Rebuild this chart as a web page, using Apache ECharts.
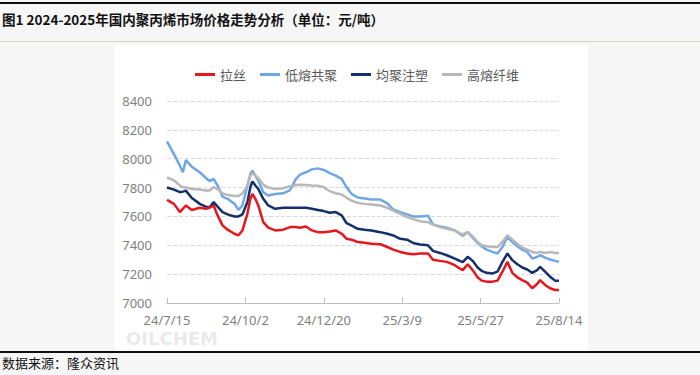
<!DOCTYPE html>
<html>
<head>
<meta charset="utf-8">
<script src="https://cdn.jsdelivr.net/npm/echarts@6/dist/echarts.min.js"></script>
<style>
html,body{margin:0;padding:0;background:#f6f6f6;}
#chart{width:700px;height:375px;}
</style>
</head>
<body>
<div id="chart"></div>
<script>
const titleText = '图1 2024-2025年国内聚丙烯市场价格走势分析（单位：元/吨）';
const sourceText = '数据来源：隆众资讯';
const watermarkText = 'OILCHEM';
const seriesNames = ['拉丝', '低熔共聚', '均聚注塑', '高熔纤维'];
const xTickStart = '2024-07-15';
const xTickStepDays = 79;
const xTickCount = 5;
const yTicks = [7000, 7200, 7400, 7600, 7800, 8000, 8200, 8400];

const dates = [
'2024-07-15','2024-07-22','2024-07-28','2024-07-31','2024-08-03','2024-08-09','2024-08-17','2024-08-23','2024-08-27','2024-08-31',
'2024-09-04','2024-09-09','2024-09-14','2024-09-21','2024-09-25','2024-09-29','2024-10-04','2024-10-07','2024-10-09','2024-10-12',
'2024-10-15','2024-10-20','2024-10-25','2024-11-01','2024-11-09','2024-11-16','2024-11-22','2024-11-26','2024-12-02','2024-12-08',
'2024-12-14','2024-12-20','2024-12-26','2025-01-01','2025-01-07','2025-01-12','2025-01-17','2025-01-23','2025-01-30','2025-02-06',
'2025-02-15','2025-02-22','2025-02-28','2025-03-07','2025-03-14','2025-03-20','2025-03-27','2025-04-04','2025-04-09','2025-04-16',
'2025-04-23','2025-05-01','2025-05-06','2025-05-09','2025-05-14','2025-05-19','2025-05-24','2025-05-28','2025-06-02','2025-06-08',
'2025-06-13','2025-06-18','2025-06-23','2025-06-28','2025-07-03','2025-07-08','2025-07-13','2025-07-18','2025-07-23','2025-07-26',
'2025-07-31','2025-08-05','2025-08-10','2025-08-14'];

const lasi = [
7715,7687,7630,7653,7676,7645,7660,7653,7660,7676,
7607,7538,7508,7480,7469,7503,7618,7722,7756,7722,
7676,7561,7522,7503,7508,7526,7526,7522,7530,7503,
7491,7491,7495,7503,7480,7445,7439,7423,7418,7411,
7407,7388,7370,7354,7343,7338,7343,7343,7300,7292,
7285,7262,7239,7228,7269,7228,7178,7155,7148,7148,
7155,7217,7285,7209,7178,7159,7141,7102,7132,7159,
7125,7102,7090,7090];

const dirong = [
8120,8032,7952,7906,7990,7945,7906,7867,7845,7860,
7814,7738,7722,7687,7645,7676,7814,7894,7917,7883,
7848,7768,7745,7756,7760,7783,7860,7890,7906,7926,
7933,7922,7900,7883,7860,7802,7756,7731,7724,7717,
7717,7690,7648,7630,7614,7600,7600,7605,7545,7531,
7522,7503,7480,7467,7491,7453,7416,7393,7370,7354,
7343,7388,7457,7423,7393,7370,7354,7308,7320,7331,
7315,7301,7292,7285];

const junju = [
7800,7786,7768,7772,7779,7728,7687,7668,7664,7699,
7668,7630,7614,7600,7600,7614,7699,7803,7843,7814,
7790,7722,7676,7653,7660,7660,7660,7660,7660,7653,
7645,7637,7625,7630,7607,7553,7537,7514,7508,7503,
7491,7480,7468,7445,7439,7416,7405,7400,7361,7347,
7331,7308,7292,7283,7320,7292,7246,7223,7209,7205,
7217,7285,7343,7297,7269,7246,7232,7209,7228,7251,
7217,7182,7155,7155];

const gaorong = [
7870,7850,7814,7803,7800,7790,7786,7780,7780,7803,
7790,7760,7749,7741,7741,7760,7814,7883,7899,7883,
7867,7820,7800,7790,7795,7810,7818,7820,7818,7814,
7812,7803,7775,7761,7752,7729,7710,7694,7687,7683,
7676,7660,7641,7618,7595,7581,7567,7560,7543,7526,
7514,7503,7484,7476,7491,7462,7423,7400,7393,7388,
7388,7423,7469,7439,7411,7384,7370,7354,7347,7354,
7347,7354,7347,7347];

function toUTC(s){const p=s.split('-').map(Number);return Date.UTC(p[0],p[1]-1,p[2]);}
const DAY = 86400000;
const base = toUTC(xTickStart);
const dayOf = s => Math.round((toUTC(s)-base)/DAY);
function fmt(d){const t=new Date(base+d*DAY);return (t.getUTCFullYear()%100)+'/'+(t.getUTCMonth()+1)+'/'+t.getUTCDate();}
const pairs = arr => dates.map((d,i)=>[dayOf(d), arr[i]]);

const colors = ['#e8161c','#6fa6e6','#142f6c','#b8b8b8'];
const values = [lasi, dirong, junju, gaorong];
const font = '"Noto Sans", "Noto Sans CJK SC", sans-serif';

const chart = echarts.init(document.getElementById('chart'), null, {renderer:'svg'});
chart.setOption({
  backgroundColor:'#f6f6f6',
  animation:false,
  textStyle:{fontFamily:font},
  graphic:[
    {type:'rect', z:-10, shape:{x:0,y:2,width:700,height:2}, style:{fill:'#111'}},
    {type:'rect', z:-10, shape:{x:0,y:41,width:700,height:1}, style:{fill:'#cdd8b8'}},
    {type:'rect', z:-10, shape:{x:114,y:45,width:474,height:306}, style:{fill:'#ffffff'}},
    {type:'rect', z:-10, shape:{x:0,y:351,width:700,height:2}, style:{fill:'#111'}},
    {type:'text', left:2, top:12, style:{text:titleText, fill:'#111', font:'bold 13.5px "Noto Sans CJK SC", sans-serif'}},
    {type:'text', left:2, top:356, style:{text:sourceText, fill:'#111', font:'13px "Noto Sans CJK SC", sans-serif'}},
    {type:'text', left:126, top:329, z:-5, style:{text:watermarkText, fill:'rgba(170,170,170,0.25)', font:'bold 18px "DejaVu Sans", sans-serif'}}
  ],
  legend:{
    data:seriesNames, top:63, left:190, itemWidth:20, itemHeight:3, itemGap:14,
    icon:'rect',
    textStyle:{color:'#595959', fontSize:13, fontFamily:'"Noto Sans CJK SC", sans-serif'}
  },
  grid:{left:167, right:141, top:101, bottom:72},
  xAxis:{
    type:'value', min:0, max:xTickStepDays*xTickCount, interval:xTickStepDays,
    axisLine:{show:true, lineStyle:{color:'#bfbfbf'}},
    axisTick:{show:true, inside:true, length:5, lineStyle:{color:'#bfbfbf'}},
    splitLine:{show:false},
    axisLabel:{formatter:v=>fmt(v), color:'#7f7f7f', fontSize:13, margin:10, fontFamily:font}
  },
  yAxis:{
    type:'value', min:yTicks[0], max:yTicks[yTicks.length-1], interval:200,
    axisLine:{show:false}, axisTick:{show:false},
    splitLine:{show:true, lineStyle:{color:'#d9d9d9', type:'dashed'}},
    axisLabel:{formatter:v=>String(v), color:'#7f7f7f', fontSize:13, margin:15, fontFamily:font}
  },
  series: seriesNames.map((n,i)=>({
    name:n, type:'line', data:pairs(values[i]), symbol:'none', showSymbol:false,
    lineStyle:{width:2.5, color:colors[i]}, itemStyle:{color:colors[i]},
    z: [5,2,4,3][i]
  }))
});
</script>
</body>
</html>
